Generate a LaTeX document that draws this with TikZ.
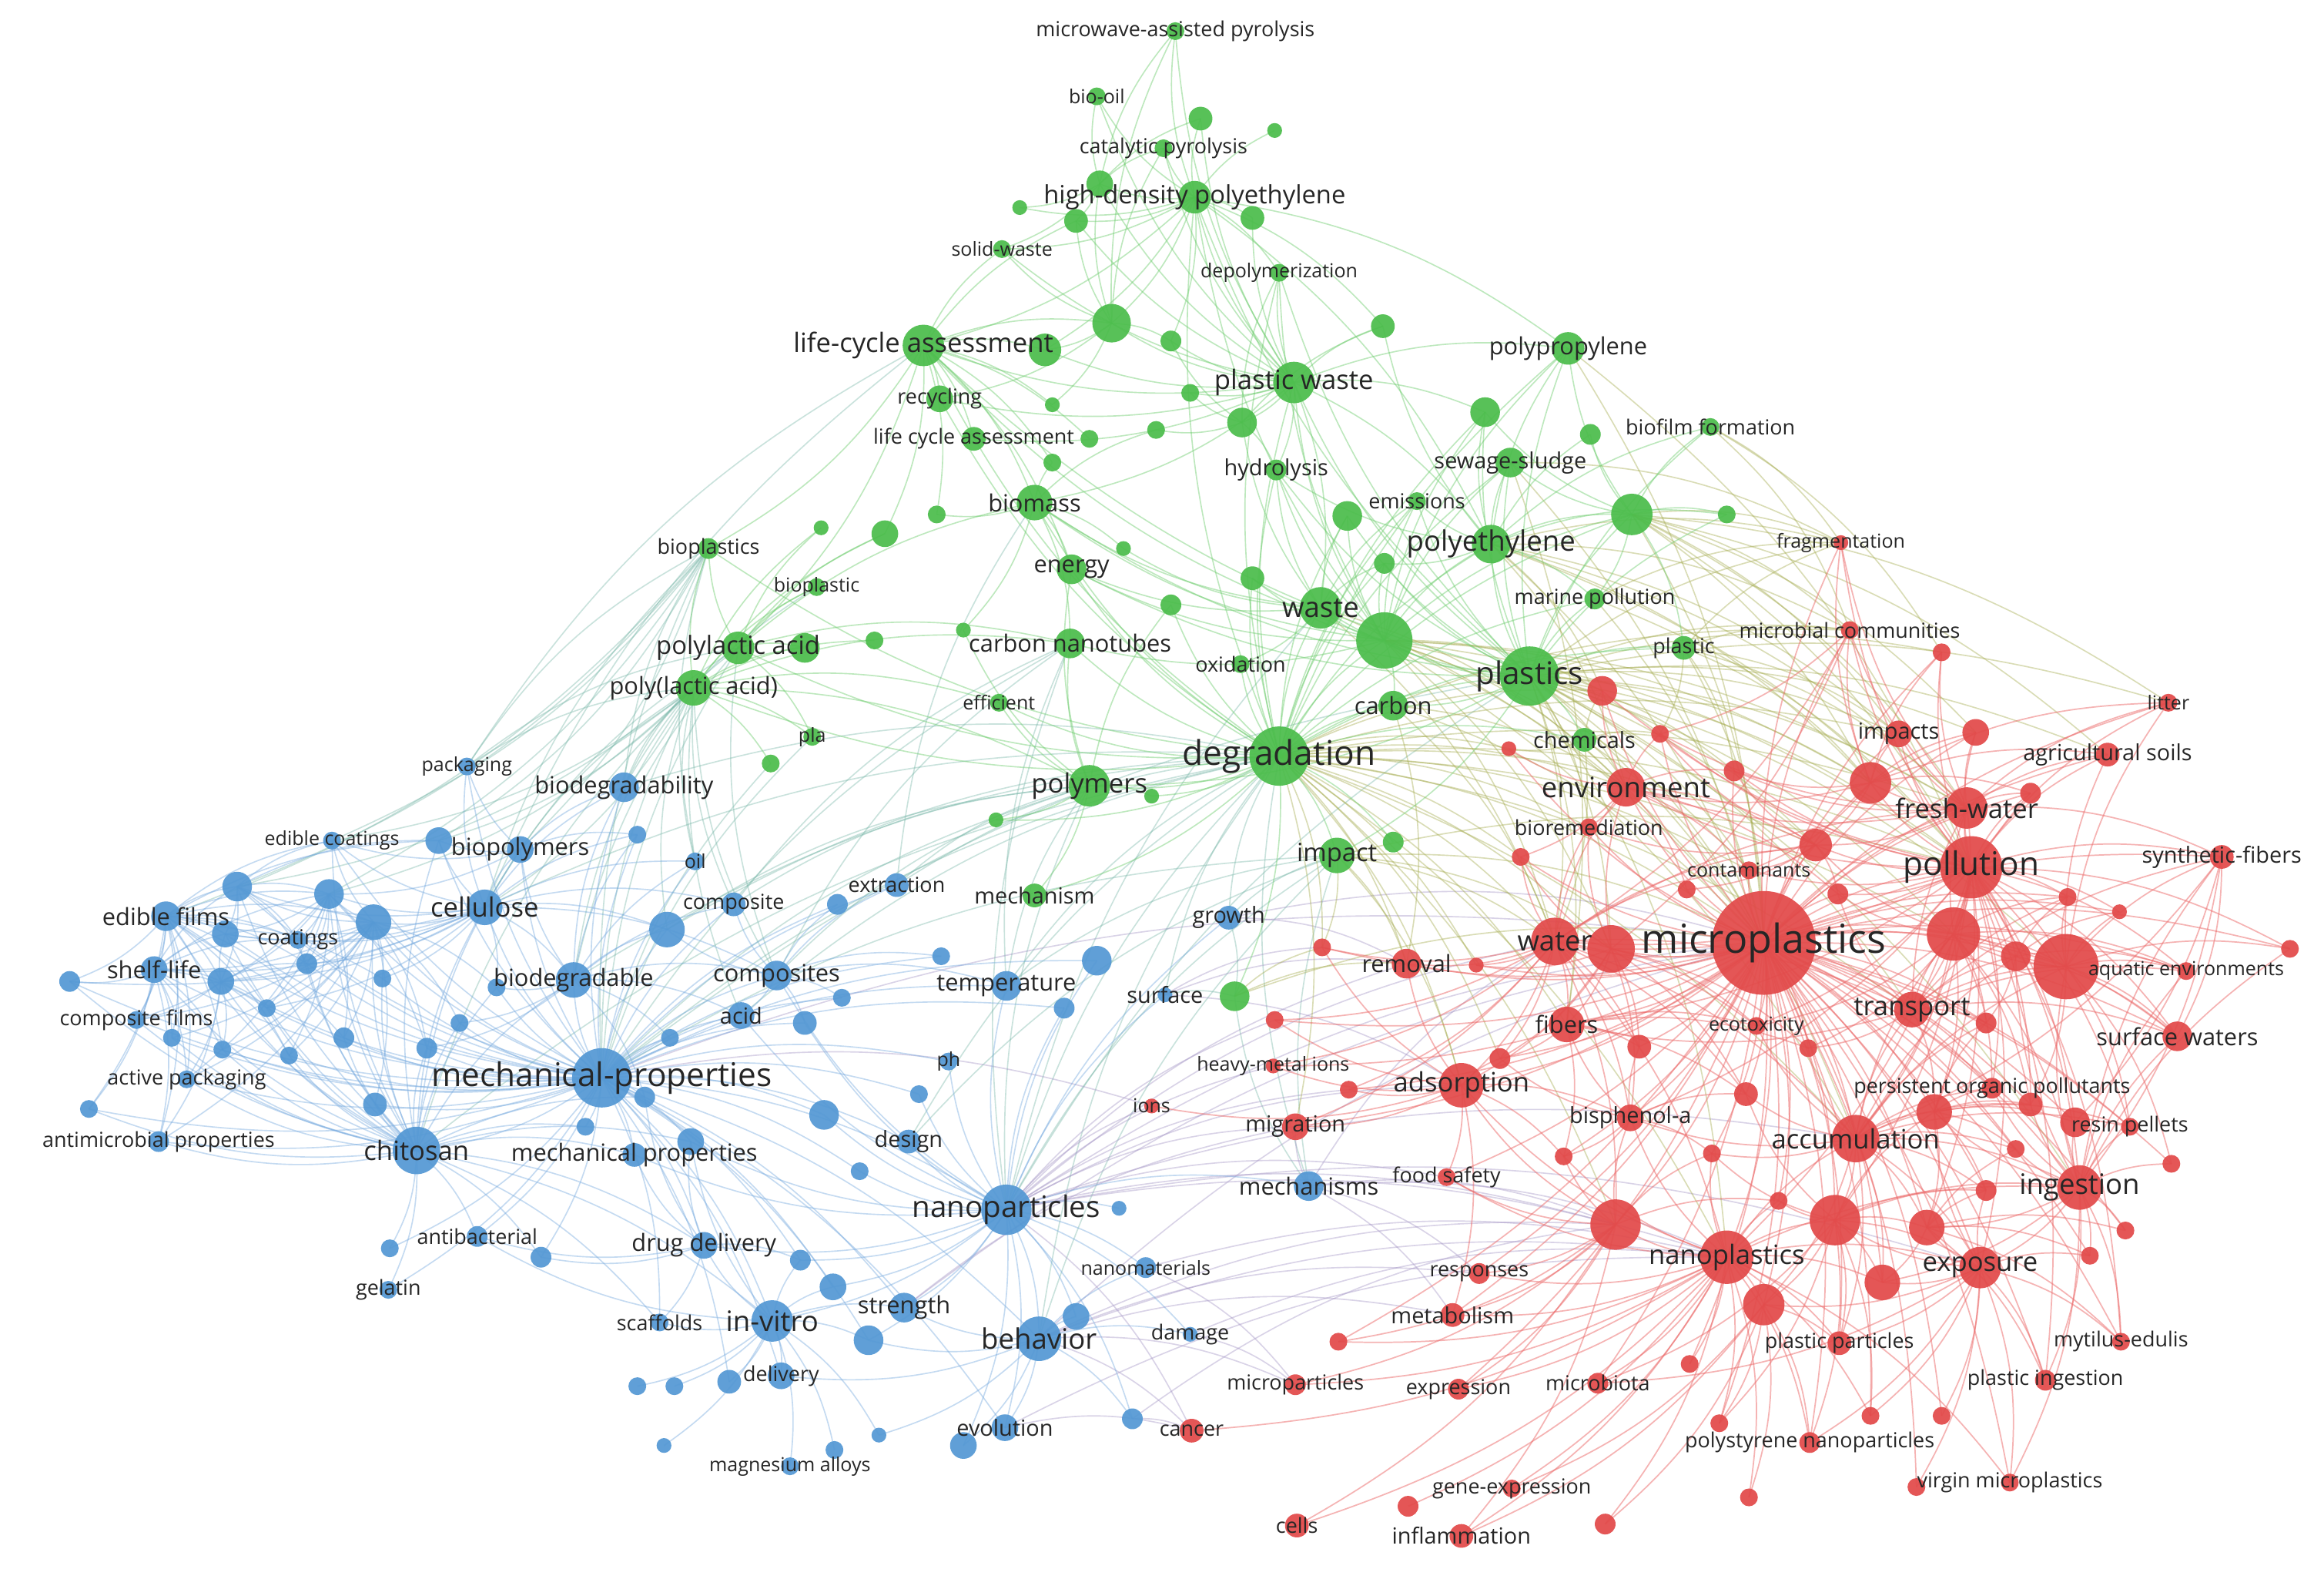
\documentclass[tikz,border=0pt]{standalone}
\usepackage{fontspec}
\setmainfont{Open Sans}
\pgfdeclarelayer{bg}\pgfdeclarelayer{edges}\pgfdeclarelayer{labels}
\pgfsetlayers{bg,edges,main,labels}
\definecolor{cG}{RGB}{76,189,76}
\definecolor{cR}{RGB}{226,74,74}
\definecolor{cB}{RGB}{84,152,212}
\definecolor{eG}{RGB}{110,205,110}
\definecolor{eR}{RGB}{236,105,105}
\definecolor{eB}{RGB}{115,168,222}
\definecolor{eGR}{RGB}{165,172,80}
\definecolor{eBR}{RGB}{160,145,195}
\definecolor{eBG}{RGB}{115,180,165}
\definecolor{labc}{RGB}{38,38,38}
\tikzset{
 kwdot/.style={circle,inner sep=0pt,outer sep=0pt,draw=none,fill opacity=0.93},
 kwlab/.style={inner sep=0pt,text=labc},
 eg/.style={draw=eG,line width=0.85pt,draw opacity=0.45},
 er/.style={draw=eR,line width=0.9pt,draw opacity=0.5},
 eb/.style={draw=eB,line width=0.85pt,draw opacity=0.42},
 egr/.style={draw=eGR,line width=0.85pt,draw opacity=0.42},
 ebr/.style={draw=eBR,line width=0.85pt,draw opacity=0.40},
 ebg/.style={draw=eBG,line width=0.85pt,draw opacity=0.38}
}
\newcommand\kwnode[7]{%
 \node[kwdot,fill=#5,minimum size={2*#4pt}] (#1) at (#2,#3) {};%
 \begin{pgfonlayer}{labels}\node[kwlab,font={\fontsize{#6}{#6}\selectfont}] (#1-l) at (#1) {#7};\end{pgfonlayer}}
\newcommand\kwdotn[5]{\node[kwdot,fill=#5,minimum size={2*#4pt}] (#1) at (#2,#3) {};}
\newcommand\kwhub[3]{\foreach \kk in {#3}{\draw[#1] (#2.center) to[bend left=14] (\kk.center);}}
\begin{document}
\begin{tikzpicture}[x=1pt,y=-1pt]
\useasboundingbox (0,0) rectangle (1568,1058);
\begin{pgfonlayer}{bg}\fill[white] (0,0) rectangle (1568,1058);\end{pgfonlayer}
% ---------------- green cluster
\kwdotn{g1}{742}{124}{9}{cG}\kwdotn{g2}{810}{80}{8}{cG}\kwdotn{g3}{860}{88}{5}{cG}
\kwdotn{g4}{726}{149}{8}{cG}\kwdotn{g5}{845}{147}{8}{cG}\kwdotn{g6}{688}{140}{5}{cG}
\kwdotn{g7}{750}{218}{13}{cG}\kwdotn{g8}{705}{236}{11}{cG}\kwdotn{g9}{735}{296}{6}{cG}
\kwdotn{g10}{790}{230}{7}{cG}\kwdotn{g11}{803}{265}{6}{cG}\kwdotn{g12}{838}{285}{10}{cG}
\kwdotn{g13}{933}{220}{8}{cG}\kwdotn{g14}{1002}{278}{10}{cG}\kwdotn{g15}{1073}{293}{7}{cG}
\kwdotn{g16}{1101}{347}{14}{cG}\kwdotn{g17}{1165}{347}{6}{cG}\kwdotn{g18}{909}{348}{10}{cG}
\kwdotn{g19}{934}{432}{19}{cG}\kwdotn{g20}{934}{380}{7}{cG}\kwdotn{g21}{845}{390}{8}{cG}
\kwdotn{g22}{790}{408}{7}{cG}\kwdotn{g23}{758}{370}{5}{cG}\kwdotn{g24}{710}{273}{5}{cG}
\kwdotn{g25}{780}{290}{6}{cG}\kwdotn{g26}{597}{360}{9}{cG}\kwdotn{g27}{632}{347}{6}{cG}
\kwdotn{g28}{554}{356}{5}{cG}\kwdotn{g29}{520}{515}{6}{cG}\kwdotn{g30}{590}{432}{6}{cG}
\kwdotn{g31}{650}{425}{5}{cG}\kwdotn{g32}{543}{437}{10}{cG}\kwdotn{g33}{940}{568}{7}{cG}
\kwdotn{g34}{777}{537}{5}{cG}\kwdotn{g35}{672}{553}{5}{cG}\kwdotn{g36}{833}{672}{10}{cG}
\kwdotn{g37}{710}{312}{6}{cG}
\kwnode{mwp}{793}{21}{6}{cG}{14}{microwave-assisted pyrolysis}
\kwnode{biooil}{740}{65}{6}{cG}{13}{bio-oil}
\kwnode{catp}{785}{100}{6}{cG}{14}{catalytic pyrolysis}
\kwnode{hdpe}{806}{133}{11}{cG}{17}{high-density polyethylene}
\kwnode{solw}{676}{168}{6}{cG}{13}{solid-waste}
\kwnode{depol}{863}{184}{6}{cG}{13}{depolymerization}
\kwnode{lca}{623}{233}{14}{cG}{18}{life-cycle assessment}
\kwnode{recyc}{634}{269}{9}{cG}{14}{recycling}
\kwnode{lcb}{657}{296}{8}{cG}{14}{life cycle assessment}
\kwnode{pw}{873}{258}{14}{cG}{18}{plastic waste}
\kwnode{pp}{1058}{235}{11}{cG}{16}{polypropylene}
\kwnode{biof}{1154}{288}{6}{cG}{14}{biofilm formation}
\kwnode{sew}{1019}{312}{10}{cG}{15}{sewage-sludge}
\kwnode{hydro}{861}{317}{7}{cG}{15}{hydrolysis}
\kwnode{emis}{956}{338}{6}{cG}{14}{emissions}
\kwnode{biom}{698}{339}{12}{cG}{16}{biomass}
\kwnode{biopls}{478}{370}{7}{cG}{14}{bioplastics}
\kwnode{biopl}{551}{396}{6}{cG}{13}{bioplastic}
\kwnode{energy}{723}{384}{10}{cG}{16}{energy}
\kwnode{pe}{1006}{367}{13}{cG}{19}{polyethylene}
\kwnode{marp}{1076}{404}{7}{cG}{14}{marine pollution}
\kwnode{plastic}{1136}{437}{8}{cG}{14}{plastic}
\kwnode{waste}{891}{410}{14}{cG}{19}{waste}
\kwnode{plaa}{498}{437}{11}{cG}{17}{polylactic acid}
\kwnode{plab}{468}{464}{12}{cG}{16}{poly(lactic acid)}
\kwnode{cnt}{722}{434}{10}{cG}{16}{carbon nanotubes}
\kwnode{oxid}{837}{448}{6}{cG}{14}{oxidation}
\kwnode{effic}{674}{474}{6}{cG}{13}{efficient}
\kwnode{carbon}{940}{476}{10}{cG}{16}{carbon}
\kwnode{plss}{1032}{456}{20}{cG}{21}{plastics}
\kwnode{pla}{548}{497}{6}{cG}{13}{pla}
\kwnode{degr}{863}{510}{20}{cG}{23}{degradation}
\kwnode{chem}{1069}{499}{8}{cG}{15}{chemicals}
\kwnode{polym}{735}{530}{14}{cG}{18}{polymers}
\kwnode{impact}{902}{577}{12}{cG}{17}{impact}
\kwnode{mech}{698}{604}{8}{cG}{15}{mechanism}
% ---------------- blue cluster
\kwdotn{b1}{160}{598}{10}{cB}\kwdotn{b2}{222}{603}{10}{cB}\kwdotn{b3}{252}{622}{12}{cB}
\kwdotn{b4}{296}{567}{9}{cB}\kwdotn{b5}{152}{630}{9}{cB}\kwdotn{b6}{149}{662}{9}{cB}
\kwdotn{b7}{180}{680}{6}{cB}\kwdotn{b8}{47}{662}{7}{cB}\kwdotn{b9}{150}{708}{6}{cB}
\kwdotn{b10}{195}{712}{6}{cB}\kwdotn{b11}{253}{745}{8}{cB}\kwdotn{b12}{288}{707}{7}{cB}
\kwdotn{b13}{335}{666}{6}{cB}\kwdotn{b14}{310}{690}{6}{cB}\kwdotn{b15}{450}{627}{12}{cB}
\kwdotn{b16}{430}{563}{6}{cB}\kwdotn{b17}{435}{740}{7}{cB}\kwdotn{b18}{466}{770}{9}{cB}
\kwdotn{b19}{452}{700}{6}{cB}\kwdotn{b20}{543}{690}{8}{cB}\kwdotn{b21}{568}{673}{6}{cB}
\kwdotn{b22}{565}{610}{7}{cB}\kwdotn{b23}{556}{752}{10}{cB}\kwdotn{b24}{580}{790}{6}{cB}
\kwdotn{b25}{635}{645}{6}{cB}\kwdotn{b27}{718}{680}{7}{cB}\kwdotn{b28}{740}{648}{10}{cB}
\kwdotn{b29}{755}{815}{5}{cB}\kwdotn{b30}{726}{888}{9}{cB}\kwdotn{b31}{586}{904}{10}{cB}
\kwdotn{b32}{562}{868}{9}{cB}\kwdotn{b33}{540}{850}{7}{cB}\kwdotn{b34}{430}{935}{6}{cB}
\kwdotn{b35}{455}{935}{6}{cB}\kwdotn{b36}{492}{932}{8}{cB}\kwdotn{b37}{593}{968}{5}{cB}
\kwdotn{b38}{563}{978}{6}{cB}\kwdotn{b39}{650}{975}{9}{cB}\kwdotn{b40}{764}{957}{7}{cB}
\kwdotn{b41}{448}{975}{5}{cB}\kwdotn{b42}{365}{848}{7}{cB}\kwdotn{b43}{263}{842}{6}{cB}
\kwdotn{b44}{60}{748}{6}{cB}\kwdotn{b45}{207}{650}{7}{cB}\kwdotn{b46}{395}{760}{6}{cB}
\kwdotn{b47}{258}{660}{6}{cB}\kwdotn{b48}{620}{738}{6}{cB}\kwdotn{b49}{232}{700}{7}{cB}
\kwdotn{b50}{116}{700}{6}{cB}
\kwnode{pack}{315}{517}{6}{cB}{13}{packaging}
\kwnode{biodeg}{421}{531}{10}{cB}{16}{biodegradability}
\kwnode{edco}{224}{567}{6}{cB}{13}{edible coatings}
\kwnode{biopol}{351}{573}{9}{cB}{16}{biopolymers}
\kwnode{oil}{469}{581}{6}{cB}{13}{oil}
\kwnode{compo}{495}{610}{8}{cB}{14}{composite}
\kwnode{extr}{605}{597}{8}{cB}{14}{extraction}
\kwnode{edfi}{112}{618}{10}{cB}{16}{edible films}
\kwnode{cell}{327}{612}{12}{cB}{18}{cellulose}
\kwnode{coat}{201}{634}{6}{cB}{14}{coatings}
\kwnode{shelf}{104}{654}{9}{cB}{16}{shelf-life}
\kwnode{biodgr}{387}{661}{12}{cB}{16}{biodegradable}
\kwnode{comps}{524}{658}{10}{cB}{16}{composites}
\kwnode{temp}{679}{665}{10}{cB}{16}{temperature}
\kwnode{growth}{829}{619}{8}{cB}{15}{growth}
\kwnode{surf}{786}{671}{5}{cB}{15}{surface}
\kwnode{acid}{500}{685}{9}{cB}{15}{acid}
\kwnode{cofi}{92}{688}{6}{cB}{14}{composite films}
\kwnode{mprop}{406}{727}{20}{cB}{22}{mechanical-properties}
\kwnode{actp}{126}{728}{6}{cB}{14}{active packaging}
\kwnode{ph}{640}{716}{6}{cB}{13}{ph}
\kwnode{antim}{107}{770}{7}{cB}{14}{antimicrobial properties}
\kwnode{chit}{281}{776}{16}{cB}{18}{chitosan}
\kwnode{mpropb}{428}{779}{8}{cB}{16}{mechanical properties}
\kwnode{design}{613}{770}{8}{cB}{15}{design}
\kwnode{nano}{679}{816}{17}{cB}{20}{nanoparticles}
\kwnode{mechs}{883}{800}{10}{cB}{16}{mechanisms}
\kwnode{antib}{322}{834}{7}{cB}{14}{antibacterial}
\kwnode{drug}{475}{840}{9}{cB}{16}{drug delivery}
\kwnode{gel}{262}{870}{6}{cB}{14}{gelatin}
\kwnode{scaf}{445}{892}{6}{cB}{14}{scaffolds}
\kwnode{invitro}{521}{891}{14}{cB}{19}{in-vitro}
\kwnode{stren}{610}{882}{10}{cB}{16}{strength}
\kwnode{behav}{701}{903}{15}{cB}{19}{behavior}
\kwnode{damage}{803}{900}{5}{cB}{14}{damage}
\kwnode{deliv}{527}{928}{9}{cB}{14}{delivery}
\kwnode{evol}{678}{963}{9}{cB}{15}{evolution}
\kwnode{mgal}{533}{989}{6}{cB}{13}{magnesium alloys}
\kwnode{nanomat}{773}{855}{7}{cB}{13}{nanomaterials}
% ---------------- red cluster
\kwdotn{r1}{1081}{466}{10}{cR}\kwdotn{r2}{1018}{505}{5}{cR}\kwdotn{r3}{1120}{495}{6}{cR}
\kwdotn{r4}{1170}{520}{7}{cR}\kwdotn{r5}{1262}{528}{14}{cR}\kwdotn{r6}{1333}{494}{9}{cR}
\kwdotn{r7}{1310}{440}{6}{cR}\kwdotn{r8}{1370}{535}{7}{cR}\kwdotn{r9}{1225}{570}{11}{cR}
\kwdotn{r10}{1240}{603}{7}{cR}\kwdotn{r11}{1026}{578}{6}{cR}\kwdotn{r12}{1087}{640}{16}{cR}
\kwdotn{r13}{1318}{630}{18}{cR}\kwdotn{r14}{1360}{645}{10}{cR}\kwdotn{r15}{1394}{652}{22}{cR}
\kwdotn{r16}{1395}{605}{6}{cR}\kwdotn{r17}{1545}{640}{6}{cR}\kwdotn{r18}{892}{639}{6}{cR}
\kwdotn{r19}{996}{651}{5}{cR}\kwdotn{r20}{860}{688}{6}{cR}\kwdotn{r21}{910}{735}{6}{cR}
\kwdotn{r22}{1012}{714}{7}{cR}\kwdotn{r23}{1106}{706}{8}{cR}\kwdotn{r24}{1090}{826}{17}{cR}
\kwdotn{r25}{1238}{823}{17}{cR}\kwdotn{r26}{1300}{828}{12}{cR}\kwdotn{r27}{1270}{865}{12}{cR}
\kwdotn{r28}{1190}{880}{14}{cR}\kwdotn{r29}{1140}{920}{6}{cR}\kwdotn{r30}{1160}{960}{6}{cR}
\kwdotn{r31}{1262}{955}{6}{cR}\kwdotn{r32}{1310}{955}{6}{cR}\kwdotn{r33}{1083}{1028}{7}{cR}
\kwdotn{r34}{1180}{1010}{6}{cR}\kwdotn{r35}{950}{1016}{7}{cR}\kwdotn{r36}{903}{905}{6}{cR}
\kwdotn{r37}{1410}{847}{6}{cR}\kwdotn{r38}{1434}{830}{6}{cR}\kwdotn{r39}{1465}{785}{6}{cR}
\kwdotn{r40}{1370}{745}{8}{cR}\kwdotn{r41}{1305}{750}{12}{cR}\kwdotn{r42}{1360}{775}{6}{cR}
\kwdotn{r43}{1178}{738}{8}{cR}\kwdotn{r44}{1155}{778}{6}{cR}\kwdotn{r45}{1055}{780}{6}{cR}
\kwdotn{r46}{1220}{707}{6}{cR}\kwdotn{r47}{1340}{690}{7}{cR}\kwdotn{r48}{1400}{757}{10}{cR}
\kwdotn{r49}{1293}{1003}{6}{cR}\kwdotn{r50}{1138}{600}{6}{cR}\kwdotn{r51}{1430}{615}{5}{cR}
\kwdotn{r52}{1200}{810}{6}{cR}\kwdotn{r53}{1340}{803}{7}{cR}
\kwnode{frag}{1242}{366}{5}{cR}{13}{fragmentation}
\kwnode{microb}{1248}{425}{6}{cR}{14}{microbial communities}
\kwnode{litter}{1463}{474}{6}{cR}{13}{litter}
\kwnode{impacts}{1281}{495}{9}{cR}{15}{impacts}
\kwnode{agri}{1422}{509}{8}{cR}{15}{agricultural soils}
\kwnode{fw}{1327}{545}{14}{cR}{18}{fresh-water}
\kwnode{env}{1097}{531}{13}{cR}{19}{environment}
\kwnode{biorem}{1072}{558}{6}{cR}{14}{bioremediation}
\kwnode{contam}{1180}{587}{6}{cR}{13}{contaminants}
\kwnode{pollu}{1330}{585}{21}{cR}{22}{pollution}
\kwnode{synf}{1499}{578}{8}{cR}{15}{synthetic-fibers}
\kwnode{mp}{1190}{636}{35}{cR}{27}{microplastics}
\kwnode{water}{1049}{635}{16}{cR}{19}{water}
\kwnode{removal}{949}{650}{10}{cR}{16}{removal}
\kwnode{aqenv}{1475}{655}{6}{cR}{13}{aquatic environments}
\kwnode{transp}{1290}{681}{12}{cR}{18}{transport}
\kwnode{fibers}{1057}{691}{12}{cR}{16}{fibers}
\kwnode{ecotox}{1185}{692}{6}{cR}{13}{ecotoxicity}
\kwnode{surfw}{1469}{699}{10}{cR}{16}{surface waters}
\kwnode{hmi}{859}{719}{5}{cR}{13}{heavy-metal ions}
\kwnode{adsorp}{986}{732}{15}{cR}{18}{adsorption}
\kwnode{ions}{777}{746}{5}{cR}{13}{ions}
\kwnode{pop}{1344}{734}{7}{cR}{14}{persistent organic pollutants}
\kwnode{migr}{874}{760}{9}{cR}{15}{migration}
\kwnode{bpa}{1100}{754}{9}{cR}{15}{bisphenol-a}
\kwnode{accum}{1252}{768}{16}{cR}{18}{accumulation}
\kwnode{resin}{1437}{760}{6}{cR}{14}{resin pellets}
\kwnode{foods}{976}{794}{6}{cR}{14}{food safety}
\kwnode{inges}{1403}{801}{15}{cR}{19}{ingestion}
\kwnode{nplast}{1165}{848}{18}{cR}{18}{nanoplastics}
\kwnode{expos}{1336}{855}{14}{cR}{18}{exposure}
\kwnode{resp}{998}{859}{7}{cR}{14}{responses}
\kwnode{metab}{980}{887}{8}{cR}{15}{metabolism}
\kwnode{plpart}{1241}{906}{8}{cR}{14}{plastic particles}
\kwnode{mytil}{1431}{905}{6}{cR}{14}{mytilus-edulis}
\kwnode{micpart}{874}{934}{7}{cR}{14}{microparticles}
\kwnode{expr}{984}{937}{7}{cR}{14}{expression}
\kwnode{mbiota}{1078}{933}{7}{cR}{14}{microbiota}
\kwnode{plingest}{1380}{931}{7}{cR}{14}{plastic ingestion}
\kwnode{cancer}{804}{965}{8}{cR}{14}{cancer}
\kwnode{psnp}{1221}{973}{7}{cR}{14}{polystyrene nanoparticles}
\kwnode{geneexp}{1020}{1004}{6}{cR}{14}{gene-expression}
\kwnode{virgin}{1356}{1000}{6}{cR}{14}{virgin microplastics}
\kwnode{cells}{875}{1029}{8}{cR}{14}{cells}
\kwnode{inflam}{986}{1036}{8}{cR}{15}{inflammation}
% ---------------- edges
\begin{pgfonlayer}{edges}
% blue-green
\kwhub{ebg}{mprop}{degr,polym,plab,plaa,biopls,pla,plss,g29,cnt,impact}
\kwhub{ebg}{biodeg}{plab,plaa,biopls,degr,biopl}
\kwhub{ebg}{cell}{plab,plaa,biopls,degr,lca}
\kwhub{ebg}{pack}{biopls,plab,plaa,lca}
\kwhub{ebg}{biopls}{edfi,edco,b1,b2,b4,biopol}
\kwhub{ebg}{plab}{edco,b2,b4,b1,cell}
\kwhub{ebg}{nano}{degr,cnt,impact,polym,plss,waste}
\kwhub{ebg}{temp}{degr,polym,impact,cnt}
\kwhub{ebg}{growth}{degr,impact,g36}
\kwhub{ebg}{comps}{plaa,cnt,polym,plab}
\kwhub{ebg}{compo}{plab,cnt,polym}
\kwhub{ebg}{extr}{degr,polym,biom}
\kwhub{ebg}{oil}{plab,biopls}
\kwhub{ebg}{acid}{plab,degr}
\kwhub{ebg}{mechs}{degr,impact,g36}
\kwhub{ebg}{chit}{plab,degr}
\kwhub{ebg}{biodgr}{plab,degr,plaa}
\kwhub{ebg}{b15}{plab,polym,degr}
\kwhub{ebg}{surf}{degr,g36}
\kwhub{ebg}{design}{degr,impact}
\kwhub{ebg}{behav}{degr,impact}
% blue-red
\kwhub{ebr}{nano}{mp,water,removal,adsorp,migr,ions,hmi,nplast,foods,cancer,r20,r21,r24,accum,expos}
\kwhub{ebr}{behav}{mp,nplast,cancer,resp,r24,metab,micpart}
\kwhub{ebr}{mechs}{nplast,r24,metab,resp,migr,water}
\kwhub{ebr}{stren}{mp,migr}
\kwhub{ebr}{mprop}{mp,ions}
\kwhub{ebr}{evol}{cancer,nplast}
\kwhub{ebr}{b40}{cancer,r24}
\kwhub{ebr}{nanomat}{nplast,micpart}
\kwhub{ebr}{damage}{nplast,micpart}
\kwhub{ebr}{growth}{removal,mp}
\kwhub{ebr}{surf}{removal,r18,adsorp}
% green-red
\kwhub{egr}{degr}{mp,water,env,pollu,removal,adsorp,fibers,fw,accum,r12,r9,biorem,contam,nplast,r1,r2,r11,r18,r19,r24,transp,r13,microb,impacts,r22,migr}
\kwhub{egr}{plss}{mp,pollu,fw,env,water,impacts,microb,frag,r1,r3,r4,r5,r9,r12,r13,transp,accum,inges,nplast,r6,r7,litter,agri,r15,fibers,contam,biorem}
\kwhub{egr}{g19}{mp,env,water,pollu,fw,r1,r12,r9,contam,r5,accum}
\kwhub{egr}{pe}{mp,pollu,fw,env,frag,microb,r5,r1,impacts}
\kwhub{egr}{g16}{mp,frag,microb,r6,agri,impacts,fw,r5,litter,pollu}
\kwhub{egr}{impact}{mp,water,removal,pollu,r18,r12,adsorp}
\kwhub{egr}{plastic}{mp,r5,fw,microb,frag,r4,r3,impacts}
\kwhub{egr}{carbon}{mp,water,removal,env}
\kwhub{egr}{chem}{mp,env,r1,r2,r3,water}
\kwhub{egr}{marp}{mp,frag,pollu}
\kwhub{egr}{biof}{frag,microb,r7}
\kwhub{egr}{sew}{mp,frag,fibers}
\kwhub{egr}{pp}{mp,pollu}
\kwhub{egr}{g36}{removal,r18,mp}
\kwhub{egr}{waste}{mp,env,water}
% green
\kwhub{eg}{degr}{impact,polym,carbon,waste,g19,plss,pe,pw,cnt,oxid,effic,mech,chem,g33,g34,g35,plaa,plab,biom,energy,hydro,sew,pp,hdpe,lca,g16,g14,marp,plastic,g36,g21,g22,emis,g18,g20,depol,recyc,biopls}
\kwhub{eg}{plss}{pe,g19,waste,pw,sew,pp,g16,g14,marp,plastic,chem,carbon,biof,g17,emis,g18,g20,hydro,biom,lca,hdpe,energy,impact,polym,depol}
\kwhub{eg}{g19}{waste,pe,pw,carbon,pp,sew,hydro,emis,g18,g20,g21,g14,g16,hdpe,depol,lca,biom,energy,cnt}
\kwhub{eg}{pw}{hdpe,g1,g2,g4,g5,g7,g8,lca,recyc,lcb,g10,g11,g12,g13,g14,depol,hydro,waste,pe,pp,catp,biooil,mwp,solw,biom}
\kwhub{eg}{hdpe}{mwp,biooil,catp,g1,g2,g3,g4,g5,g6,solw,depol,g7,g10,pe,pp,g13,lca,g8}
\kwhub{eg}{lca}{g7,g8,recyc,lcb,biom,g26,g27,solw,g4,g24,g9,energy,biopls,plaa,g37}
\kwhub{eg}{pe}{pp,sew,g14,g15,g16,biof,marp,emis,g20,hydro,g13,g17}
\kwhub{eg}{plab}{biopls,biopl,pla,g29,g30,g32,g26,g28,effic,cnt,polym}
\kwhub{eg}{plaa}{biopls,biopl,pla,g32,g26,g28,cnt,biom}
\kwhub{eg}{polym}{cnt,effic,g31,g35,g22,mech,energy,g34}
\kwhub{eg}{waste}{hydro,emis,g18,g20,g21,energy,biom,g12,g23,oxid}
\kwhub{eg}{biom}{energy,g23,g37,g25,g27,g31,cnt}
\kwhub{eg}{g7}{g1,g4,g8,g10,solw,mwp,catp,recyc,g24}
\kwhub{eg}{g1}{mwp,biooil,catp,g2,g4,g6,solw}
\kwhub{eg}{g16}{g15,g17,biof,pp,g14,marp,plastic,sew}
\kwhub{eg}{g12}{hydro,g11,g25,g10,depol,g13}
% red
\kwhub{er}{mp}{pollu,water,removal,aqenv,transp,fibers,ecotox,surfw,hmi,adsorp,pop,migr,bpa,accum,resin,foods,inges,nplast,expos,resp,metab,plpart,mytil,expr,mbiota,plingest,psnp,virgin,env,frag,microb,litter,impacts,agri,fw,biorem,contam,synf,r1,r2,r3,r4,r5,r6,r7,r8,r9,r10,r11,r12,r13,r14,r15,r16,r17,r18,r19,r20,r21,r22,r23,r24,r25,r26,r27,r28,r29,r30,r31,r32,r36,r37,r38,r39,r40,r41,r42,r43,r44,r45,r46,r47,r48,r49,r50,r51,r52,r53}
\kwhub{er}{pollu}{frag,microb,litter,impacts,agri,fw,synf,r5,r6,r7,r8,r9,r10,r13,r14,r15,r16,r17,aqenv,surfw,transp,accum,inges,expos,pop,resin,nplast,water,env,contam,r1,r3,r4,r12,r25,r26,r41,r40,r48,mytil,plingest,fibers,ecotox,bpa,r51}
\kwhub{er}{water}{removal,adsorp,fibers,r12,r18,r19,r20,r22,r23,env,biorem,r11,fw,transp,nplast,accum,r24,bpa,hmi,migr,r21,ecotox,r43,contam,r9}
\kwhub{er}{nplast}{r24,r25,r28,r27,plpart,psnp,mbiota,geneexp,metab,resp,expr,micpart,cells,inflam,r29,r30,r31,r33,r34,r35,r36,expos,accum,inges,bpa,r44,r45,r52,virgin,cancer,foods,adsorp}
\kwhub{er}{accum}{r25,r26,r41,r40,pop,resin,inges,expos,r43,r44,r46,transp,r13,r14,r15,bpa,ecotox,r42,r47,r53,r27,r28,plpart}
\kwhub{er}{inges}{r15,r40,r41,r42,r48,resin,r39,r38,r37,mytil,plingest,expos,r26,r27,virgin,surfw,aqenv,r17,r14,pop,synf}
\kwhub{er}{expos}{r26,r27,r28,r25,plpart,psnp,virgin,plingest,mytil,r31,r32,r37,r49,r53,r41,mbiota}
\kwhub{er}{transp}{r13,r14,r15,r47,r46,surfw,aqenv,fw,r10,pop,r41,fibers,r16,synf}
\kwhub{er}{fw}{impacts,r5,r6,r7,r8,agri,litter,r9,microb,frag,r4,r3,r13,env,synf}
\kwhub{er}{r15}{aqenv,surfw,synf,r17,r14,r16,r51,agri,litter,r39,resin,r40,r13}
\kwhub{er}{r12}{fibers,r23,r22,ecotox,r19,adsorp,bpa,biorem,r11,env,r43,r46}
\kwhub{er}{env}{r1,r2,r3,r4,biorem,r11,contam,r9,r10,r50}
\kwhub{er}{r24}{bpa,adsorp,r45,metab,resp,r36,micpart,expr,foods,r44,r52,cells,inflam}
\kwhub{er}{adsorp}{hmi,ions,migr,r21,r20,removal,r18,foods,r22,bpa,r45,metab}
\kwhub{er}{r28}{psnp,r30,r34,r33,inflam,geneexp,plpart}
\kwhub{er}{r13}{r14,r16,r47,r10,r9,fw,r8,aqenv,surfw,r15,inges,accum,r41,r40,pop,r46,ecotox}
\kwhub{er}{r25}{r26,r27,r28,expos,inges,plpart,psnp,r41,r43,r44,r52,r53,mbiota,r31,r30}
\kwhub{er}{r5}{impacts,r6,r7,microb,frag,r4,r9,env,litter,agri,r8,contam}
\kwhub{er}{r9}{r10,r4,contam,r50,biorem,r3}
\kwhub{er}{r41}{r40,r42,pop,resin,r48,r47,r53,r26}
\kwhub{er}{r26}{r27,r53,r37,r38,plingest,mytil,r42}
\kwhub{er}{r14}{r16,r51,r47,aqenv,surfw}
\kwhub{er}{bpa}{r43,r44,r45,r23,fibers,r22}
\kwhub{er}{fibers}{r23,r22,r45,r43,ecotox,r46}
\kwhub{er}{microb}{water,r12,r3}
\kwhub{er}{synf}{inges,r48,surfw,accum}
% blue
\kwhub{eb}{mprop}{pack,biodeg,edco,biopol,oil,compo,extr,edfi,cell,coat,shelf,biodgr,comps,temp,acid,cofi,actp,ph,antim,chit,mpropb,design,nano,antib,drug,gel,scaf,invitro,stren,behav,deliv,evol,b1,b2,b3,b4,b5,b6,b7,b8,b9,b10,b11,b12,b13,b14,b15,b16,b17,b18,b19,b20,b21,b22,b23,b24,b25,b27,b28,b31,b32,b33,b36,b42,b43,b44,b45,b46,b47,b48,b49,b50}
\kwhub{eb}{chit}{edfi,shelf,cofi,actp,antim,coat,edco,b1,b2,b3,b4,b5,b6,b7,b8,b9,b10,b11,b12,b13,b14,b44,b45,b47,b49,b50,cell,biopol,biodgr,antib,gel,b42,b43,drug,mpropb,b17,b18,invitro,scaf,b46}
\kwhub{eb}{cell}{edfi,shelf,coat,edco,b1,b2,b3,b4,b5,b6,b7,b8,biopol,biodeg,pack,biodgr,b15,compo,oil,b16,comps,b45,b47,b13}
\kwhub{eb}{edfi}{shelf,cofi,actp,coat,edco,b1,b2,b3,b4,b5,b6,b7,b8,b10,b44,b45,b49,antim,b47,b9,b50}
\kwhub{eb}{b3}{shelf,cofi,actp,b1,b2,b5,b6,b7,b10,b11,b12,b13,b14,edco,antim,b49,b47,b9,b50}
\kwhub{eb}{shelf}{b1,b5,b6,b7,b8,cofi,actp,antim,coat,b2,b44,b9,b50}
\kwhub{eb}{b2}{b5,b6,b7,b45,coat,cofi,actp,b10,b49,b12}
\kwhub{eb}{b6}{b5,b7,b9,b10,cofi,actp,antim,b45}
\kwhub{eb}{b1}{b2,b5,edco,b4,coat,b6,b45}
\kwhub{eb}{biodgr}{b15,compo,comps,acid,b13,b14,b12,b19,b17,biopol,oil,b16,biodeg}
\kwhub{eb}{nano}{design,stren,behav,invitro,drug,b23,b24,b29,b30,b31,b32,b33,nanomat,damage,evol,b39,b40,mechs,temp,ph,b27,b28,growth,surf,b48,comps,acid,b20,mpropb,b18}
\kwhub{eb}{invitro}{scaf,deliv,drug,b31,b32,b33,b34,b35,b36,b41,stren,mgal,b38,b37,b18,antib}
\kwhub{eb}{behav}{stren,evol,b30,b39,b40,b31,damage,nanomat,b37,deliv}
\kwhub{eb}{drug}{b17,b18,b33,antib,mpropb,b42,scaf}
\kwhub{eb}{comps}{acid,b20,b21,b22,compo,b15,temp,extr,b25}
\kwhub{eb}{biopol}{b4,pack,biodeg,edco,b2,b16}
\end{pgfonlayer}
\end{tikzpicture}
\end{document}
